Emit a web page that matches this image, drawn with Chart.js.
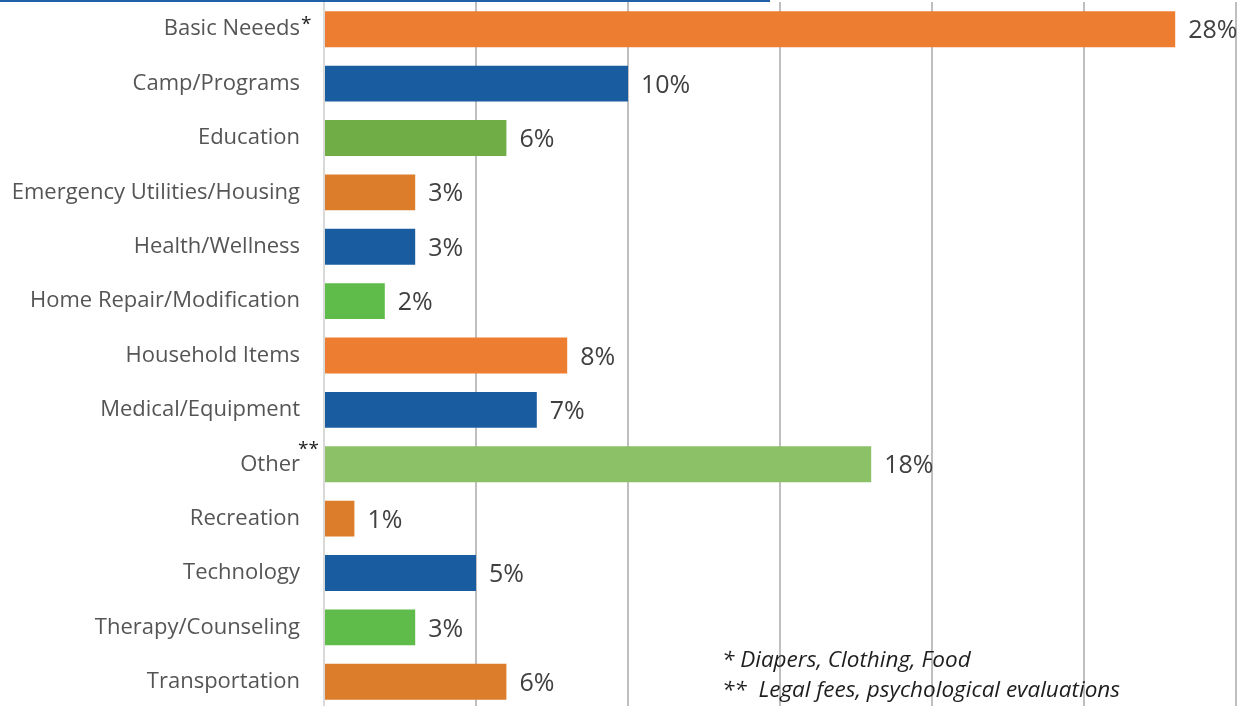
<!DOCTYPE html>
<html>
<head>
<meta charset="utf-8">
<script src="https://cdn.jsdelivr.net/npm/chart.js@4/dist/chart.umd.min.js"></script>
<style>
  html, body { margin: 0; padding: 0; background: #fff; overflow: hidden; }
  #wrap { position: relative; width: 1241px; height: 706px; overflow: hidden; }
  #c { position: absolute; left: 0; top: 0; }
  #topline { position: absolute; left: 0; top: 0; width: 770px; height: 2px; background: #2160A6; }
  .note { position: absolute; left: 722px; font-family: "Open Sans", sans-serif; font-style: italic; font-size: 22.5px; color: #1e1e1e; white-space: pre; line-height: 30px; }
</style>
</head>
<body>
<div id="wrap">
  <canvas id="c" width="1241" height="712"></canvas>
  <div id="topline"></div>
  <div class="note" style="top:644px">* Diapers, Clothing, Food</div>
  <div class="note" style="top:674px">**  Legal fees, psychological evaluations</div>
</div>
<script>
const categories = ["Basic Neeeds", "Camp/Programs", "Education", "Emergency Utilities/Housing", "Health/Wellness", "Home Repair/Modification", "Household Items", "Medical/Equipment", "Other", "Recreation", "Technology", "Therapy/Counseling", "Transportation"];
const labelMarks = ["*", "", "", "", "", "", "", "", "**", "", "", "", ""];
const values = [28, 10, 6, 3, 3, 2, 8, 7, 18, 1, 5, 3, 6];
const barColors = ["#ED7D31", "#1A5CA0", "#70AD47", "#DC7D2B", "#1A5CA0", "#5FBB4A", "#ED7D31", "#1A5CA0", "#8CC168", "#DC7D2B", "#1A5CA0", "#5FBB4A", "#DC7D2B"];
const xTicks = [0, 5, 10, 15, 20, 25, 30];

const valueLabels = {
  id: 'valueLabels',
  afterDatasetsDraw(chart) {
    const ctx = chart.ctx;
    const meta = chart.getDatasetMeta(0);
    ctx.save();
    ctx.font = '25px "Open Sans", sans-serif';
    ctx.fillStyle = '#404040';
    ctx.textBaseline = 'middle';
    ctx.textAlign = 'left';
    meta.data.forEach((bar, i) => {
      ctx.fillText(values[i] + '%', bar.x + 13, bar.y + 2);
    });
    ctx.restore();
  }
};

const marks = {
  id: 'marks',
  afterDraw(chart) {
    const ctx = chart.ctx;
    const y = chart.scales.y;
    ctx.save();
    ctx.font = '19px "Open Sans", sans-serif';
    ctx.fillStyle = '#222';
    ctx.textBaseline = 'middle';
    ctx.textAlign = 'left';
    labelMarks.forEach((m, i) => {
      if (!m) return;
      const py = y.getPixelForValue(i);
      const lx = y.right - 24;
      const multi = m.length > 1;
      ctx.fillText(m, lx + (multi ? -2 : 1), py - (multi ? 15 : 5));
    });
    ctx.restore();
  }
};

new Chart(document.getElementById('c'), {
  type: 'bar',
  data: {
    labels: categories,
    datasets: [{
      data: values,
      backgroundColor: barColors,
      borderWidth: 0,
      barPercentage: 0.66,
      categoryPercentage: 1.0
    }]
  },
  options: {
    indexAxis: 'y',
    responsive: false,
    animation: false,
    devicePixelRatio: 1,
    layout: { padding: { left: 0, right: 5, top: 2, bottom: 3 } },
    plugins: { legend: { display: false }, tooltip: { enabled: false } },
    scales: {
      x: {
        min: 0, max: 30,
        afterBuildTicks(scale) { scale.ticks = xTicks.map(v => ({ value: v })); },
        ticks: { display: false },
        border: { display: false },
        grid: {
          drawTicks: false,
          lineWidth: 2,
          color: ctx => ctx.index === 0 ? '#D9D9D9' : '#BFBFBF'
        }
      },
      y: {
        afterFit(scale) { scale.width = 324; scale.paddingTop = 0; scale.paddingBottom = 0; },
        border: { display: false },
        grid: { display: false, drawTicks: false },
        ticks: {
          padding: 24,
          color: '#555555',
          font: { family: '"Open Sans", sans-serif', size: 22 }
        }
      }
    }
  },
  plugins: [valueLabels, marks]
});
</script>
</body>
</html>
